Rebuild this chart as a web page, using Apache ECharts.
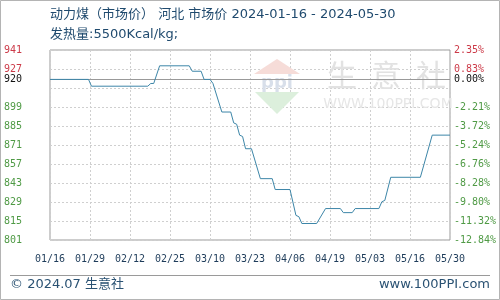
<!DOCTYPE html>
<html>
<head>
<meta charset="utf-8">
<script src="https://cdn.jsdelivr.net/npm/echarts@6/dist/echarts.min.js"></script>
<style>html,body{margin:0;padding:0;background:#fff;}#c{width:500px;height:300px;}</style>
</head>
<body>
<div id="c"></div>
<script>
const titleText = '动力煤（市场价） 河北 市场价 2024-01-16 - 2024-05-30';
const subtitleText = '发热量:5500Kcal/kg;';
const footerLeft = '© 2024.07 生意社';
const footerRight = 'www.100PPI.com';

const baseValue = 920;
// day index counted from 2024-01-16
const dayIndex = [0,13,14,33,34,35,37,47,48,51,52,54,55,58,61,62,63,64,65,66,68,71,75,76,81,83,84,85,90,93,98,99,102,103,111,112,113,115,125,129,135];
const prices   = [920,920,915,915,917,917,930,930,926,926,920,920,917,896,896,888,887,879,878,869,869,847,847,839,839,820,819,814,814,825,825,822,822,825,825,830,831,848,848,879,879];

const xTickLabels = ['01/16','01/29','02/12','02/25','03/10','03/23','04/06','04/19','05/03','05/16','05/30'];
const gridPct = [-12.84,-11.32,-9.80,-8.28,-6.76,-5.24,-3.72,-2.21,-0.69,0.83,2.35];
const labelPct = [-12.84,-11.32,-9.80,-8.28,-6.76,-5.24,-3.72,-2.21,0,0.83,2.35];
const leftTickLabels = ['801','815','829','843','857','871','885','899','920','927','941'];
const rightTickLabels = ['-12.84%','-11.32%','-9.80%','-8.28%','-6.76%','-5.24%','-3.72%','-2.21%','0.00%','0.83%','2.35%'];

const toPrice = p => baseValue * (1 + p / 100);
const minV = toPrice(gridPct[0]), maxV = toPrice(gridPct[gridPct.length - 1]);
const xSpan = dayIndex[dayIndex.length - 1] - dayIndex[0];
const xStep = xSpan / (xTickLabels.length - 1);

function cls(p) { return p > 0 ? 'r' : (p < 0 ? 'g' : 'k'); }
function findIdx(arr, v) {
  let best = 0, bd = Infinity;
  arr.forEach((a, i) => { const d = Math.abs(a - v); if (d < bd) { bd = d; best = i; } });
  return best;
}
const rich = {
  r: {color: '#cc3a48', fontFamily: 'DejaVu Sans Mono', fontSize: 10},
  g: {color: '#4f9a45', fontFamily: 'DejaVu Sans Mono', fontSize: 10},
  k: {color: '#111111', fontFamily: 'DejaVu Sans Mono', fontSize: 10}
};

const chart = echarts.init(document.getElementById('c'), null, {renderer: 'canvas'});
const txtFont = '13px "DejaVu Sans", "Noto Sans CJK SC", sans-serif';
const wmFont = '30px "Noto Sans CJK SC"';
chart.setOption({
  animation: false,
  backgroundColor: '#fff',
  grid: {left: 50, right: 50, top: 50, bottom: 60, show: true, borderColor: '#9a9a9a', borderWidth: 1, backgroundColor: 'transparent'},
  xAxis: {
    type: 'value', min: 0, max: xSpan, interval: xStep,
    axisLine: {show: false}, axisTick: {show: false},
    splitLine: {show: true, lineStyle: {color: '#cfcfcf', type: [2, 2], width: 1}},
    axisLabel: {
      margin: 14, color: '#1e3c5a', fontFamily: 'DejaVu Sans Mono', fontSize: 10,
      formatter: v => xTickLabels[Math.round(v / xStep)] || ''
    }
  },
  yAxis: [{
    type: 'value', min: minV, max: maxV, position: 'left',
    axisLine: {show: false},
    axisTick: {show: false, customValues: gridPct.map(toPrice)},
    splitLine: {show: true, lineStyle: {color: '#cfcfcf', type: [2, 2], width: 1}},
    axisLabel: {
      margin: 28, customValues: labelPct.map(toPrice), rich: rich,
      formatter: v => { const i = findIdx(labelPct.map(toPrice), v); return '{' + cls(labelPct[i]) + '|' + leftTickLabels[i] + '}'; }
    }
  }, {
    type: 'value', min: gridPct[0], max: gridPct[gridPct.length - 1], position: 'right',
    axisLine: {show: false}, axisTick: {show: false, customValues: labelPct},
    splitLine: {show: false},
    axisLabel: {
      margin: 4, customValues: labelPct, rich: rich,
      formatter: v => { const i = findIdx(labelPct, v); return '{' + cls(labelPct[i]) + '|' + rightTickLabels[i] + '}'; }
    }
  }],
  series: [{
    type: 'line', yAxisIndex: 0, z: 5,
    data: dayIndex.map((d, i) => [d, prices[i]]),
    showSymbol: false, symbol: 'none',
    lineStyle: {color: '#3d86a8', width: 1},
    markLine: {
      silent: true, symbol: ['none', 'none'], label: {show: false},
      lineStyle: {color: '#999999', type: 'solid', width: 1},
      data: [{yAxis: baseValue}]
    }
  }],
  graphic: [
    {type: 'rect', shape: {x: 0.5, y: 0.5, width: 499, height: 299}, style: {fill: null, stroke: '#b4b4b4', lineWidth: 1}, z: 0, silent: true},
    {type: 'text', x: 50, y: 15, style: {text: titleText, font: txtFont, fill: '#1f4a6e', verticalAlign: 'middle'}, z: 10},
    {type: 'text', x: 50, y: 35, style: {text: subtitleText, font: txtFont, fill: '#1f4a6e', verticalAlign: 'middle'}, z: 10},
    {type: 'line', shape: {x1: 10, y1: 275.5, x2: 490, y2: 275.5}, style: {stroke: '#9a9a9a', lineWidth: 1}, z: 10},
    {type: 'text', x: 10, y: 285, style: {text: footerLeft, font: txtFont, fill: '#2a5273', verticalAlign: 'middle'}, z: 10},
    {type: 'text', x: 490, y: 285, style: {text: footerRight, font: txtFont, fill: '#2a5273', verticalAlign: 'middle', align: 'right'}, z: 10},
    // watermark
    {type: 'polygon', shape: {points: [[254, 74], [277, 59], [300, 74]]}, style: {fill: '#f6dcd8'}, z: 1, silent: true},
    {type: 'text', x: 277, y: 83, style: {text: 'ppi', font: 'bold 18px "DejaVu Sans"', fill: '#d8dfea', align: 'center', verticalAlign: 'middle'}, z: 1, silent: true},
    {type: 'polygon', shape: {points: [[255, 92], [299, 92], [277, 114]]}, style: {fill: '#dcefdc'}, z: 1, silent: true},
    {type: 'text', x: 327, y: 75, style: {text: '生', font: wmFont, fill: '#e2e2e2', verticalAlign: 'middle'}, z: 1, silent: true},
    {type: 'text', x: 371, y: 75, style: {text: '意', font: wmFont, fill: '#e2e2e2', verticalAlign: 'middle'}, z: 1, silent: true},
    {type: 'text', x: 416, y: 75, style: {text: '社', font: wmFont, fill: '#e2e2e2', verticalAlign: 'middle'}, z: 1, silent: true},
    {type: 'text', x: 388, y: 104, style: {text: 'WWW.100PPI.COM', font: '14px "DejaVu Sans"', fill: '#e6e6e6', align: 'center', verticalAlign: 'middle'}, z: 1, silent: true}
  ]
});
</script>
</body>
</html>
